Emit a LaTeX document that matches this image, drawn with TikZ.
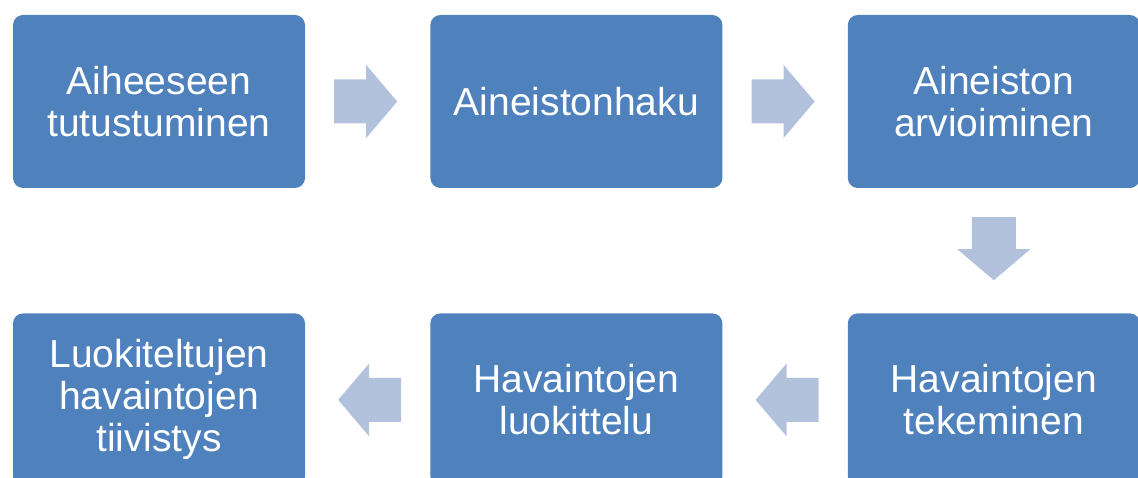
\documentclass[tikz,border=0pt]{standalone}
\usepackage{fontspec}
\setmainfont{Liberation Sans}
\usetikzlibrary{positioning}
\definecolor{boxblue}{RGB}{79,129,189}
\definecolor{arrowblue}{RGB}{178,193,220}
\tikzset{
  stepbox/.style={rectangle, rounded corners=10pt, fill=boxblue, text=white,
    minimum width=292pt, minimum height=173pt, inner sep=0pt,
    text width=280pt, align=center, font=\fontsize{39}{42}\selectfont},
  flowarrow/.style={fill=arrowblue}
}
% block arrow between two boxes, #3 = direction angle
\newcommand{\flowstep}[3]{%
  \path (#1) -- (#2) coordinate[pos=.5] (#1-#2);
  \begin{scope}[shift={(#1-#2)}, rotate=#3]
    \fill[flowarrow] (-33.5,-22) -- (-1.5,-22) -- (-1.5,-36.5) -- (29.5,0)
      -- (-1.5,36.5) -- (-1.5,22) -- (-33.5,22) -- cycle;
  \end{scope}}

\begin{document}
\begin{tikzpicture}[x=1pt,y=1pt,node distance=125pt]
  \useasboundingbox (0,0) rectangle (1138,477);
  \clip (0,0) rectangle (1138,477);

  \node[stepbox] (tutus) at (159,375.5) {Aiheeseen\\tutustuminen};
  \node[stepbox] (haku)  [right=of tutus] {Aineistonhaku};
  \node[stepbox] (arvio) [right=of haku]  {Aineiston\\arvioiminen};
  \node[stepbox] (teke)  [below=of arvio] {Havaintojen\\tekeminen};
  \node[stepbox] (luok)  [left=of teke]   {Havaintojen\\luokittelu};
  \node[stepbox] (tiiv)  [left=of luok]   {Luokiteltujen\\havaintojen\\tiivistys};

  \flowstep{tutus}{haku}{0}
  \flowstep{haku}{arvio}{0}
  \flowstep{arvio}{teke}{-90}
  \flowstep{teke}{luok}{180}
  \flowstep{luok}{tiiv}{180}
\end{tikzpicture}
\end{document}
